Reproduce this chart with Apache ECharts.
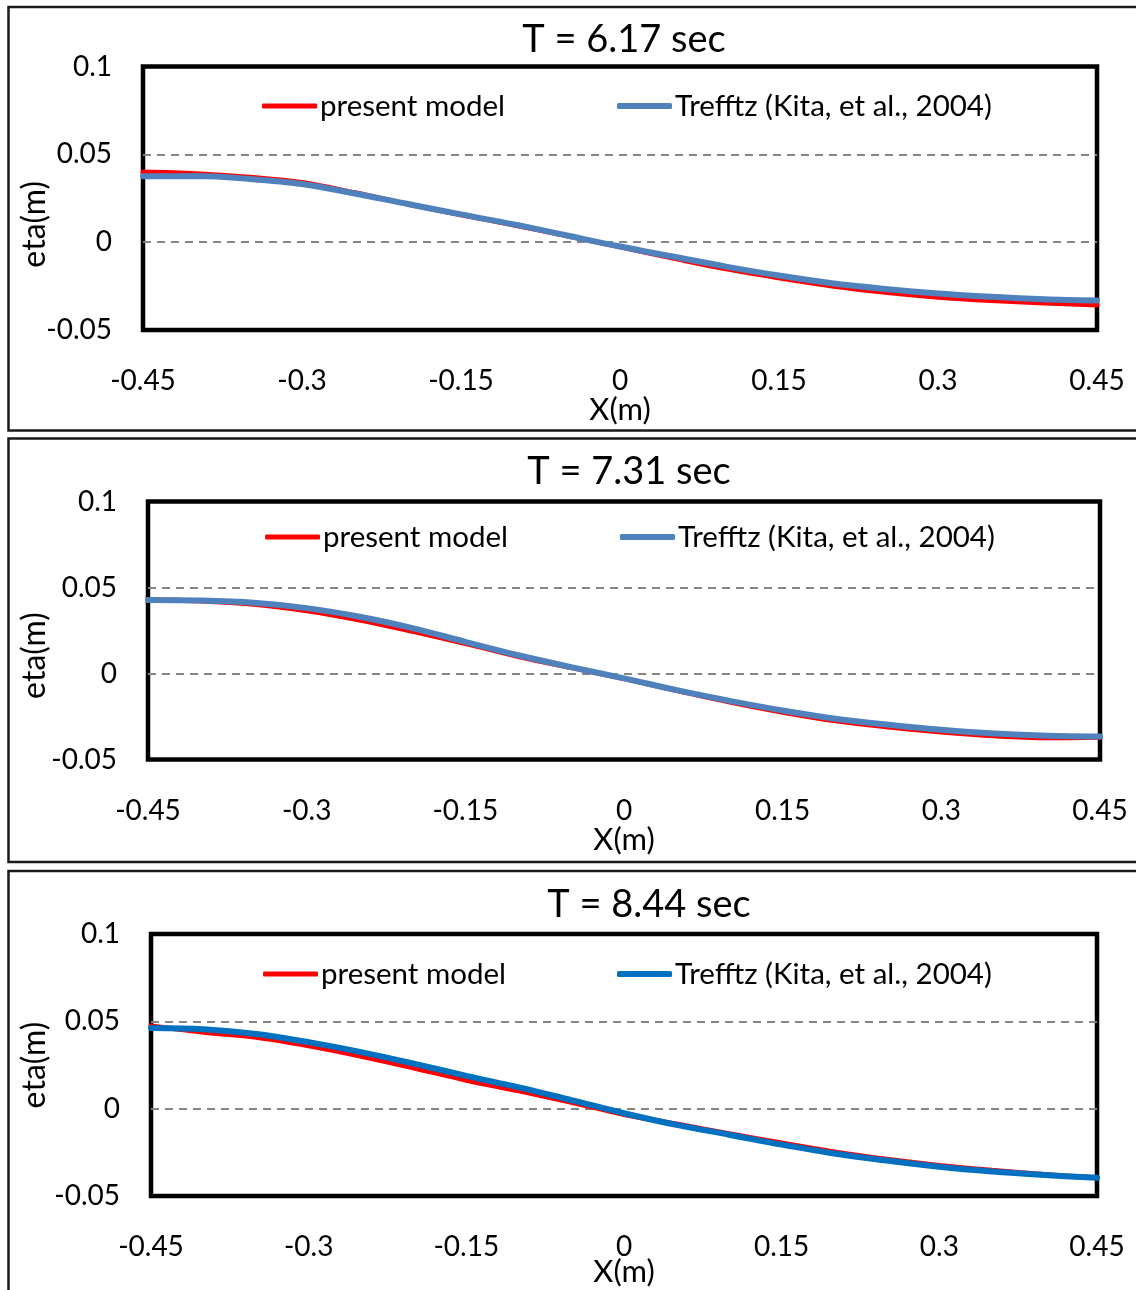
<!DOCTYPE html>
<html>
<head>
<meta charset="utf-8">
<script src="https://cdn.jsdelivr.net/npm/echarts@6/dist/echarts.min.js"></script>
<style>
  html, body { margin: 0; padding: 0; background: #ffffff; }
  #chart { width: 1136px; height: 1290px; }
</style>
</head>
<body>
<div id="chart"></div>
<script>
// Free-surface elevation eta along the tank at three instants.
const X_STATIONS = [-0.45, -0.40, -0.35, -0.30, -0.25, -0.20, -0.15, -0.10, -0.05, 0.00,
                    0.05, 0.10, 0.15, 0.20, 0.25, 0.30, 0.35, 0.40, 0.45];

const PANEL_TITLES = ['T = 6.17 sec', 'T = 7.31 sec', 'T = 8.44 sec'];
const SERIES_NAMES = ['present model', 'Trefftz (Kita, et al., 2004)'];

const X_MIN = -0.45, X_MAX = 0.45, X_STEP = 0.15;
const Y_MIN = -0.05, Y_MAX = 0.10, Y_STEP = 0.05;

// T = 6.17 s
const etaModel617   = [0.0399, 0.0390, 0.0370, 0.0340, 0.0281, 0.0216, 0.0156, 0.0098, 0.0036, -0.0027,
                       -0.0091, -0.0152, -0.0203, -0.0249, -0.0285, -0.0313, -0.0332, -0.0346, -0.0357];
const etaTrefftz617 = [0.0375, 0.0376, 0.0360, 0.0331, 0.0277, 0.0217, 0.0158, 0.0101, 0.0038, -0.0025,
                       -0.0082, -0.0139, -0.0190, -0.0234, -0.0266, -0.0292, -0.0311, -0.0325, -0.0332];
// T = 7.31 s
const etaModel731   = [0.0427, 0.0422, 0.0403, 0.0365, 0.0311, 0.0245, 0.0174, 0.0099, 0.0034, -0.0030,
                       -0.0099, -0.0166, -0.0225, -0.0275, -0.0311, -0.0340, -0.0362, -0.0373, -0.0370];
const etaTrefftz731 = [0.0427, 0.0424, 0.0411, 0.0380, 0.0330, 0.0264, 0.0184, 0.0106, 0.0037, -0.0028,
                       -0.0097, -0.0159, -0.0215, -0.0263, -0.0298, -0.0327, -0.0349, -0.0362, -0.0366];
// T = 8.44 s
const etaModel844   = [0.0474, 0.0438, 0.0409, 0.0360, 0.0300, 0.0233, 0.0163, 0.0102, 0.0037, -0.0033,
                       -0.0088, -0.0143, -0.0197, -0.0248, -0.0290, -0.0325, -0.0353, -0.0377, -0.0396];
const etaTrefftz844 = [0.0462, 0.0455, 0.0428, 0.0381, 0.0324, 0.0258, 0.0188, 0.0122, 0.0049, -0.0026,
                       -0.0093, -0.0149, -0.0206, -0.0257, -0.0297, -0.0333, -0.0360, -0.0380, -0.0396];

const MODEL_SETS   = [etaModel617, etaModel731, etaModel844];
const TREFFTZ_SETS = [etaTrefftz617, etaTrefftz731, etaTrefftz844];

// Page layout of the three stacked panels (pixels).
const LAYOUT = [
  { frameTop: 7,   frameH: 423.5, grid: { left: 143, top: 66.5, width: 954, height: 263.5 },
    titleX: 624, titleY: 39.5, legendY: 106, legendX: [262, 617], etaShift: 26, xNameGap: 64, blue: '#4F81BD' },
  { frameTop: 438.5, frameH: 423.5, grid: { left: 148, top: 501.5, width: 952, height: 258 },
    titleX: 629, titleY: 471, legendY: 537, legendX: [265, 620], etaShift: 25, xNameGap: 65, blue: '#4F81BD' },
  { frameTop: 871, frameH: 600, grid: { left: 151, top: 934, width: 946, height: 262 },
    titleX: 649, titleY: 904.5, legendY: 974, legendX: [263, 617], etaShift: 0, xNameGap: 60, blue: '#0070C0' }
];

const FONT = 'Lato';
const RED = '#FF0000';

const titles = [], grids = [], xAxes = [], yAxes = [], series = [], legends = [], frames = [];

LAYOUT.forEach((p, i) => {
  frames.push({
    type: 'rect', silent: true, z: -10,
    shape: { x: 8.5, y: p.frameTop, width: 1150, height: p.frameH },
    style: { fill: 'none', stroke: '#1a1a1a', lineWidth: 2.5 }
  });

  titles.push({
    text: PANEL_TITLES[i], left: p.titleX, top: p.titleY - 18.5, textAlign: 'center', padding: 0,
    textStyle: { fontFamily: FONT, fontSize: 38, fontWeight: 'normal', color: '#000' }
  });

  grids.push(Object.assign({
    show: true, borderColor: '#000', borderWidth: 4.5, backgroundColor: 'transparent',
    containLabel: false, outerBoundsMode: 'none'
  }, p.grid));

  xAxes.push({
    type: 'value', gridIndex: i, min: X_MIN, max: X_MAX, interval: X_STEP,
    name: 'X(m)', nameLocation: 'middle', nameGap: p.xNameGap, nameMoveOverlap: false,
    nameTextStyle: { fontFamily: FONT, fontSize: 31, color: '#000', lineHeight: 31 },
    axisLine: { show: false }, axisTick: { show: false }, splitLine: { show: false },
    axisLabel: { margin: 37, fontFamily: FONT, fontSize: 28, color: '#000' }
  });

  yAxes.push({
    type: 'value', gridIndex: i, min: Y_MIN, max: Y_MAX, interval: Y_STEP,
    name: 'eta(m)', nameLocation: 'middle', nameGap: p.grid.left - 51, nameMoveOverlap: false,
    nameTextStyle: { fontFamily: FONT, fontSize: 32, color: '#000', lineHeight: 32,
                     padding: [0, 2 * p.etaShift, 0, 0] },
    axisLine: { show: false }, axisTick: { show: false },
    splitLine: { show: true, showMinLine: false, showMaxLine: false,
                 lineStyle: { color: '#858585', width: 2, type: [8, 6] } },
    axisLabel: { margin: 31, fontFamily: FONT, fontSize: 28, color: '#000' }
  });

  series.push({
    name: SERIES_NAMES[0], type: 'line', xAxisIndex: i, yAxisIndex: i,
    data: X_STATIONS.map((x, j) => [x, MODEL_SETS[i][j]]),
    smooth: 0.35, symbol: 'none', clip: false, z: 2,
    lineStyle: { color: RED, width: 5, cap: 'round' }, itemStyle: { color: RED }
  });
  series.push({
    name: SERIES_NAMES[1], type: 'line', xAxisIndex: i, yAxisIndex: i,
    data: X_STATIONS.map((x, j) => [x, TREFFTZ_SETS[i][j]]),
    smooth: 0.35, symbol: 'none', clip: false, z: 3,
    lineStyle: { color: p.blue, width: 6, cap: 'round' }, itemStyle: { color: p.blue }
  });

  [RED, p.blue].forEach((c, k) => {
    legends.push({
      left: p.legendX[k], top: p.legendY - 15, padding: 0, itemGap: 0,
      itemWidth: 55, itemHeight: k === 0 ? 5 : 6, icon: 'roundRect',
      selectedMode: false,
      data: [{ name: SERIES_NAMES[k], icon: 'roundRect', itemStyle: { color: c, borderWidth: 0 } }],
      itemStyle: { color: c, borderWidth: 0 },
      textStyle: { fontFamily: FONT, fontSize: 29.5, color: '#000', lineHeight: 30, padding: [0, 0, 0, -2] }
    });
  });
});

const chart = echarts.init(document.getElementById('chart'), null, { renderer: 'canvas' });
chart.setOption({
  animation: false,
  backgroundColor: '#ffffff',
  title: titles,
  grid: grids,
  xAxis: xAxes,
  yAxis: yAxes,
  legend: legends,
  series: series,
  graphic: frames
});
</script>
</body>
</html>
